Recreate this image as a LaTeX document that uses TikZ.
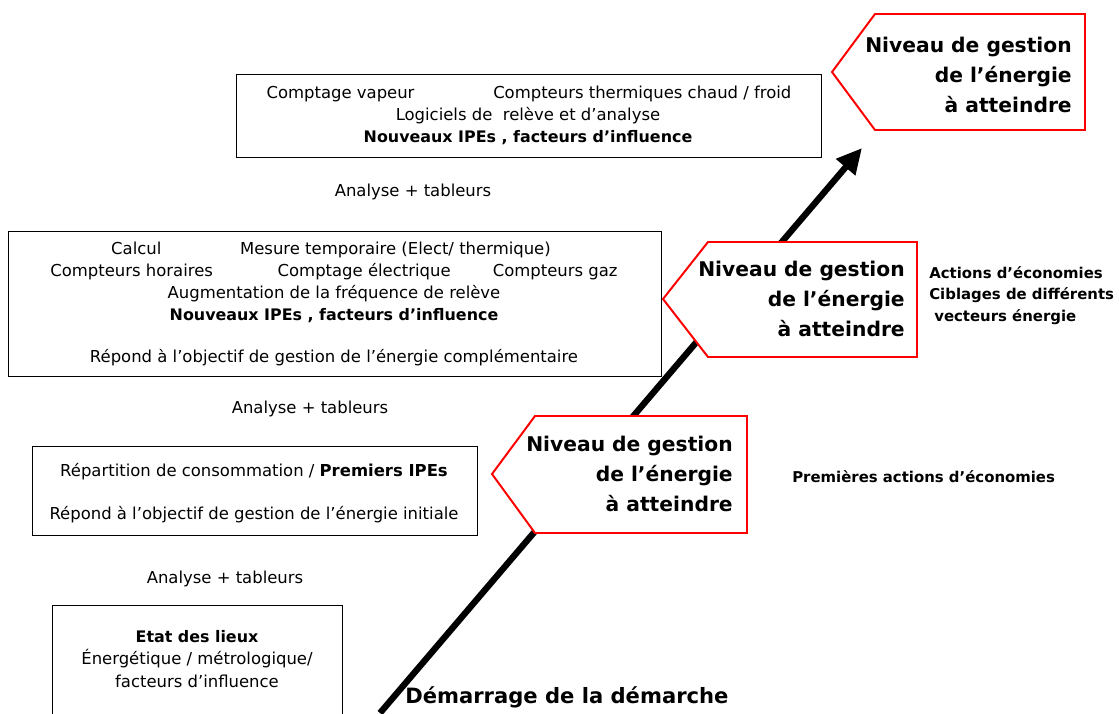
\documentclass[tikz,border=0pt]{standalone}
\usepackage{fontspec}
\setmainfont{DejaVu Sans}
\usetikzlibrary{arrows.meta}
\begin{document}
\begin{tikzpicture}[x=0.025cm,y=-0.025cm,%
% common options for the framed blocks:
block/.style = {draw, line width=1pt, anchor=north west, inner sep=0},
% common options for the texts:
txt/.style = {anchor=base, inner sep=0, font=\fontsize{11.7}{14}\selectfont},
bold/.style = {anchor=base, inner sep=0, font=\fontsize{11.3}{14}\selectfont\bfseries},
% common options for the red levels:
level/.style = {draw=red, line width=1.4pt, fill=white},
goal/.style = {anchor=base east, align=right, inner sep=0,
            font=\fontsize{14.4}{21.3}\selectfont\bfseries},
side/.style = {anchor=base west, inner sep=0, font=\fontsize{10.6}{13}\selectfont\bfseries}]
\useasboundingbox (0,0) rectangle (1119,713);
\clip (0,0) rectangle (1119,713);
% the blocks
\node[block, minimum width=585*0.025cm, minimum height=83*0.025cm] (B3) at (236,74) {};
\node[block, minimum width=653*0.025cm, minimum height=145*0.025cm] (B2) at (8,231) {};
\node[block, minimum width=445*0.025cm, minimum height=89*0.025cm] (B1) at (32,446) {};
\node[block, minimum width=290*0.025cm, minimum height=130*0.025cm] (B0) at (52,605) {};
\node[txt] (B3a) at (529,98) {Comptage vapeur\hspace{56pt}Compteurs thermiques chaud / froid};
\node[txt] (B3b) at (528,120) {Logiciels de\ \ relève et d’analyse};
\node[bold] (B3c) at (528,142) {Nouveaux IPEs , facteurs d’influence};
\node[txt] (B2a) at (331,254) {Calcul\hspace{56pt}Mesure temporaire (Elect/ thermique)};
\node[txt] (B2b) at (334,276) {Compteurs horaires\hspace{46pt}Comptage électrique\hspace{30pt}Compteurs gaz};
\node[txt] (B2c) at (334,298) {Augmentation de la fréquence de relève};
\node[bold] (B2d) at (334,320) {Nouveaux IPEs , facteurs d’influence};
\node[txt] (B2e) at (334,362) {Répond à l’objectif de gestion de l’énergie complémentaire};
\node[txt] (B1a) at (254,476) {Répartition de consommation / \textbf{Premiers IPEs}};
\node[txt] (B1b) at (254,519) {Répond à l’objectif de gestion de l’énergie initiale};
\node[bold] (B0a) at (197,642) {Etat des lieux};
\node[txt] (B0b) at (197,664) {Énergétique / métrologique/};
\node[txt] (B0c) at (197,687) {facteurs d’influence};
\node[txt] (T3) at (413,196) {Analyse + tableurs};
\node[txt] (T2) at (310,413) {Analyse + tableurs};
\node[txt] (T1) at (225,583) {Analyse + tableurs};
% the rising arrow
\coordinate (start) at (380,713);
\coordinate (goal) at (862,148);
\draw[line width=4.5pt, -{Triangle[length=18pt,width=17pt]}] (start) -- (goal);
\node[anchor=base west, inner sep=0, font=\fontsize{15}{18}\selectfont\bfseries] (S) at (405,703) {Démarrage de la démarche};
% the levels
\draw[level] (832,72) -- (875,14) -- (1085,14) -- (1085,130) -- (875,130) -- cycle;
\draw[level] (663,299) -- (708,242) -- (917,242) -- (917,357) -- (708,357) -- cycle;
\draw[level] (492,474) -- (535,416) -- (747,416) -- (747,533) -- (535,533) -- cycle;
\node[goal] (L3) at (1072,112) {Niveau de gestion\\de l’énergie\hspace*{5pt}\\à atteindre};
\node[goal] (L2) at (905,336) {Niveau de gestion\\de l’énergie\hspace*{5pt}\\à atteindre};
\node[goal] (L1) at (733,511) {Niveau de gestion\\de l’énergie\hspace*{5pt}\\à atteindre};
\node[side] (A2a) at (929,278) {Actions d’économies};
\node[side] (A2b) at (929,299) {Ciblages de différents};
\node[side] (A2c) at (934,321) {vecteurs énergie};
\node[side] (A1) at (792,482) {Premières actions d’économies};
\end{tikzpicture}
\end{document}
